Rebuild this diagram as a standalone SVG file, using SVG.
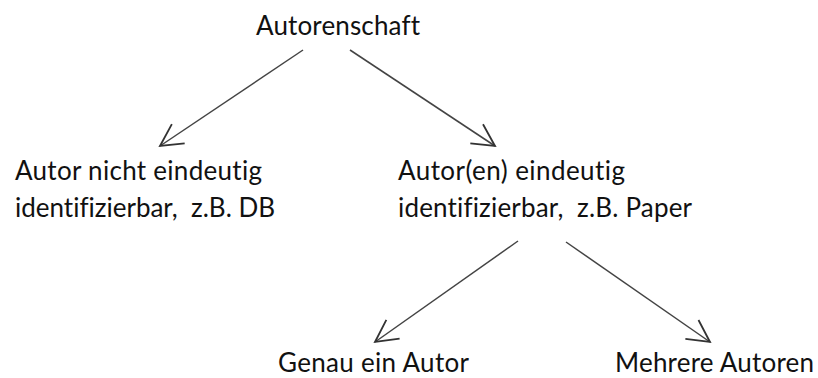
<svg xmlns="http://www.w3.org/2000/svg" width="818" height="378" viewBox="0 0 818 378">
<style>
text { font-family: Lato, "Open Sans", sans-serif; font-size: 26px; fill: #111; font-variant-ligatures: none; font-feature-settings: "liga" 0, "clig" 0; }
.edge { stroke: #444; stroke-width: 1.5; fill: none; marker-end: url(#arr); }
</style>
<defs>
<marker id="arr" markerUnits="userSpaceOnUse" viewBox="-26 -14 28 28" refX="0" refY="0" markerWidth="28" markerHeight="28" orient="auto" overflow="visible">
<path d="M-22,-11.5 L0,0 L-22,11.5" fill="none" stroke="#333" stroke-width="1.8"/>
</marker>
</defs>
<rect width="818" height="378" fill="#fff"/>
<g id="connectors">
<line class="edge" x1="303" y1="50" x2="160" y2="146"/>
<line class="edge" x1="350" y1="50" x2="495" y2="146"/>
<line class="edge" x1="518" y1="241" x2="375" y2="342"/>
<line class="edge" x1="566" y1="242" x2="710" y2="342"/>
</g>
<g id="root"><text x="256" y="35" textLength="164">Autorenschaft</text></g>
<g id="nicht-eindeutig">
<text x="15" y="180" textLength="247">Autor nicht eindeutig</text>
<text x="15" y="217" textLength="260" xml:space="preserve">identifizierbar,  z.B. DB</text>
</g>
<g id="eindeutig">
<text x="398" y="180" textLength="227">Autor(en) eindeutig</text>
<text x="398" y="217" textLength="294" xml:space="preserve">identifizierbar,  z.B. Paper</text>
</g>
<g id="genau-ein"><text x="278" y="372" textLength="191">Genau ein Autor</text></g>
<g id="mehrere"><text x="615" y="372" textLength="199">Mehrere Autoren</text></g>
</svg>
